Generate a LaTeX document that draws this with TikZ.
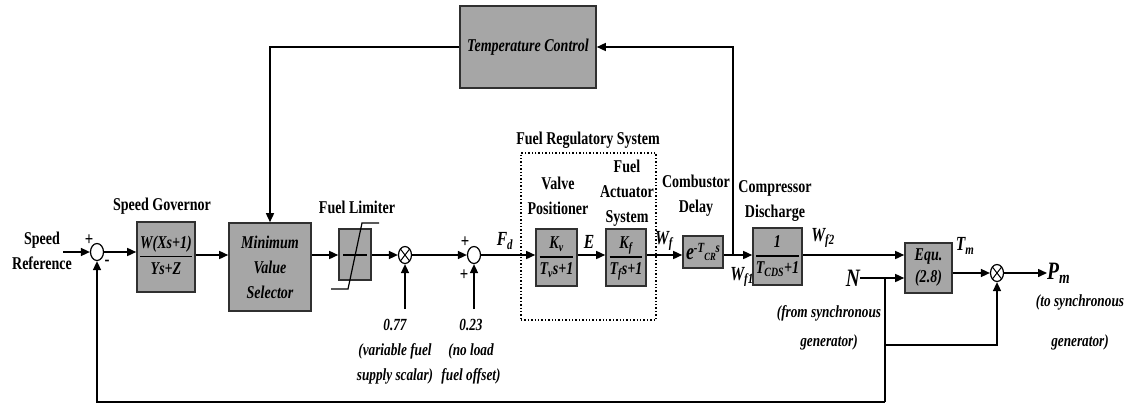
\documentclass[tikz,border=0pt]{standalone}
\usepackage{fontspec}
\setmainfont{Liberation Serif}[FakeStretch=0.78]
\usetikzlibrary{arrows.meta,shapes.geometric}
\definecolor{boxgray}{HTML}{A6A6A6}
\definecolor{boxline}{HTML}{303030}
\setlength{\arrayrulewidth}{1.5pt}
\newcommand\ssub[1]{\textsubscript{#1}}
\newcommand\bfrac[2]{\begin{tabular}{@{}c@{}}#1\\[1pt]\hline\rule{0pt}{17pt}#2\end{tabular}}
\begin{document}
\begin{tikzpicture}[x=1pt,y=-1pt,
  lbl/.style={font=\bfseries\fontsize{18}{25}\selectfont, align=center, inner sep=0pt},
  note/.style={font=\bfseries\itshape\fontsize{17}{25}\selectfont, align=center, inner sep=0pt},
  sig/.style={font=\bfseries\itshape\fontsize{20}{22}\selectfont, inner sep=0pt},
  bigsig/.style={font=\bfseries\itshape\fontsize{25}{26}\selectfont, inner sep=0pt},
  pmsign/.style={font=\bfseries\fontsize{19}{19}\selectfont, inner sep=0pt},
  blk/.style={draw=boxline, line width=1.6pt, fill=boxgray, align=center, inner sep=0pt,
    font=\bfseries\itshape\fontsize{18}{22}\selectfont},
  ln/.style={line width=1.5pt},
  arr/.style={ln, -{Triangle[length=9pt,width=8pt]}},
  sumj/.style={draw, ellipse, line width=1.2pt, minimum width=13pt, minimum height=17pt,
    inner sep=0pt, fill=white},
  mulj/.style={sumj, path picture={\draw[line width=1pt]
    (path picture bounding box.north west) -- (path picture bounding box.south east)
    (path picture bounding box.south west) -- (path picture bounding box.north east);}},
  frs/.style={draw, dotted, line width=1.4pt, minimum width=135pt, minimum height=167pt, inner sep=0pt}
]
\useasboundingbox (0,0) rectangle (1135,407);
\coordinate (ml) at (0,255);

% speed reference and first summing junction
\node[lbl] (sref) at (42,251) {Speed\\Reference};
\coordinate (srefo) at (63,252);
\node[sumj] (s1) at (97,252) {};
\node[pmsign] (s1p) at (89,240) {+};
\node[pmsign] (s1m) at (107,263) {-};

% governor, selector, temperature control
\node[lbl] (govl) at (162,206) {Speed Governor};
\node[blk, minimum width=58pt, minimum height=70pt] (gov) at (166,257) {\bfrac{W(Xs+1)}{Ys+Z}};
\node[blk, minimum width=82pt, minimum height=88pt, font=\bfseries\itshape\fontsize{18}{25}\selectfont] (mvs) at (270,267) {Minimum\\Value\\Selector};
\node[blk, minimum width=136pt, minimum height=82pt] (tc) at (528,47) {Temperature Control};

% fuel limiter
\node[lbl] (liml) at (357,207) {Fuel Limiter};
\node[blk, minimum width=32pt, minimum height=51pt] (lim) at (355,254.5) {};
\begin{scope}[shift={(lim.center)}, line width=1.2pt]
  \draw (-12,0.5) -- (12,0.5);
  \draw (-24,34.5) -- (-7,34.5) -- (7,-31.5) -- (24,-31.5);
\end{scope}

% scalar and offset
\node[mulj] (m1) at (405,255) {};
\coordinate (i077) at (405,309);
\node[note] (n077) at (395,352) {0.77\\(variable fuel\\supply scalar)};
\node[sumj] (s2) at (474,255) {};
\node[pmsign] (s2p) at (465,242) {+};
\node[pmsign] (s2q) at (464,275) {+};
\coordinate (i023) at (474,309);
\node[note] (n023) at (471,352) {0.23\\(no load\\fuel offset)};
\node[sig] (fd) at (505,241) {F\ssub{d}};

% fuel regulatory system
\node[frs] (frsbox) at (588.5,236.5) {};
\node[lbl] (frsl) at (588,140) {Fuel Regulatory System};
\node[lbl] (vpl) at (558,195.5) {Valve\\Positioner};
\node[blk, minimum width=41pt, minimum height=57pt] (vp) at (556.5,257.5) {\bfrac{K\ssub{v}}{T\ssub{v}s+1}};
\node[sig] (el) at (589,242) {E};
\node[lbl] (fasl) at (627,193) {Fuel\\Actuator\\System};
\node[blk, minimum width=40pt, minimum height=57pt] (fas) at (626,257.5) {\bfrac{K\ssub{f}}{T\ssub{f}s+1}};
\node[sig] (wf) at (664,241) {W\ssub{f}};

% combustor delay
\node[lbl] (cdl) at (696,195.5) {Combustor\\Delay};
\node[blk, minimum width=40pt, minimum height=32pt] (cd) at (703,252)
  {{\fontsize{23}{23}\selectfont e}\raisebox{7pt}{\fontsize{14}{14}\selectfont -T}\raisebox{-1pt}{\fontsize{11}{11}\selectfont CR}\raisebox{7pt}{\fontsize{14}{14}\selectfont s}};
\node[sig] (wf1) at (742,277) {W\ssub{f1}};
\coordinate (b1) at (733,255);

% compressor discharge
\node[lbl] (compl) at (775,201) {Compressor\\Discharge};
\node[blk, minimum width=49pt, minimum height=57pt] (comp) at (777.5,256.5) {\bfrac{1}{T\ssub{CDS}+1}};
\node[sig] (wf2) at (823,238) {W\ssub{f2}};

% turbine equation
\node[blk, minimum width=47pt, minimum height=50pt] (equ) at (928.5,268) {Equ.\\(2.8)};
\node[bigsig] (nn) at (853,278) {N};
\node[note, font=\bfseries\itshape\fontsize{17}{29}\selectfont] (gen1) at (829,327.5) {(from synchronous\\generator)};
\node[sig] (tm) at (965,246) {T\ssub{m}};
\node[mulj] (m2) at (997,273) {};
\node[bigsig, anchor=west] (pmn) at (1047,273) {P\ssub{m}};
\node[note, font=\bfseries\itshape\fontsize{17}{40}\selectfont] (gen2) at (1080,322) {(to synchronous\\generator)};
\coordinate (nb) at (885,278);
\coordinate (nb2) at (885,345);
\coordinate (fb) at (885,402);
\coordinate (pmo) at (1047,273);

% connectors
\draw[arr] (srefo) -- (s1.west);
\draw[arr] (s1.east) -- (gov.west |- s1.east);
\draw[arr] (gov.east |- ml) -- (mvs.west |- ml);
\draw[arr] (mvs.east |- ml) -- (lim.west |- ml);
\draw[arr] (lim.east |- ml) -- (m1.west);
\draw[arr] (i077) -- (m1.south);
\draw[arr] (m1.east) -- (s2.west);
\draw[arr] (i023) -- (s2.south);
\draw[arr] (s2.east) -- (vp.west |- ml);
\draw[arr] (vp.east |- ml) -- (fas.west |- ml);
\draw[arr] (fas.east |- ml) -- (cd.west |- ml);
\draw[arr] (cd.east |- ml) -- (comp.west |- ml);
\draw[arr] (b1) |- (tc.east);
\draw[arr] (tc.west) -| (mvs.north);
\draw[arr] (comp.east |- ml) -- (equ.west |- ml);
\draw[arr] (nn.east) -- (equ.west |- nn.east);
\draw[arr] (equ.east |- m2.west) -- (m2.west);
\draw[arr] (m2.east) -- (pmo);
\draw[ln] (nb) -- (fb);
\draw[arr] (nb2) -| (m2.south);
\draw[arr] (fb) -| (s1.south);
\end{tikzpicture}
\end{document}
